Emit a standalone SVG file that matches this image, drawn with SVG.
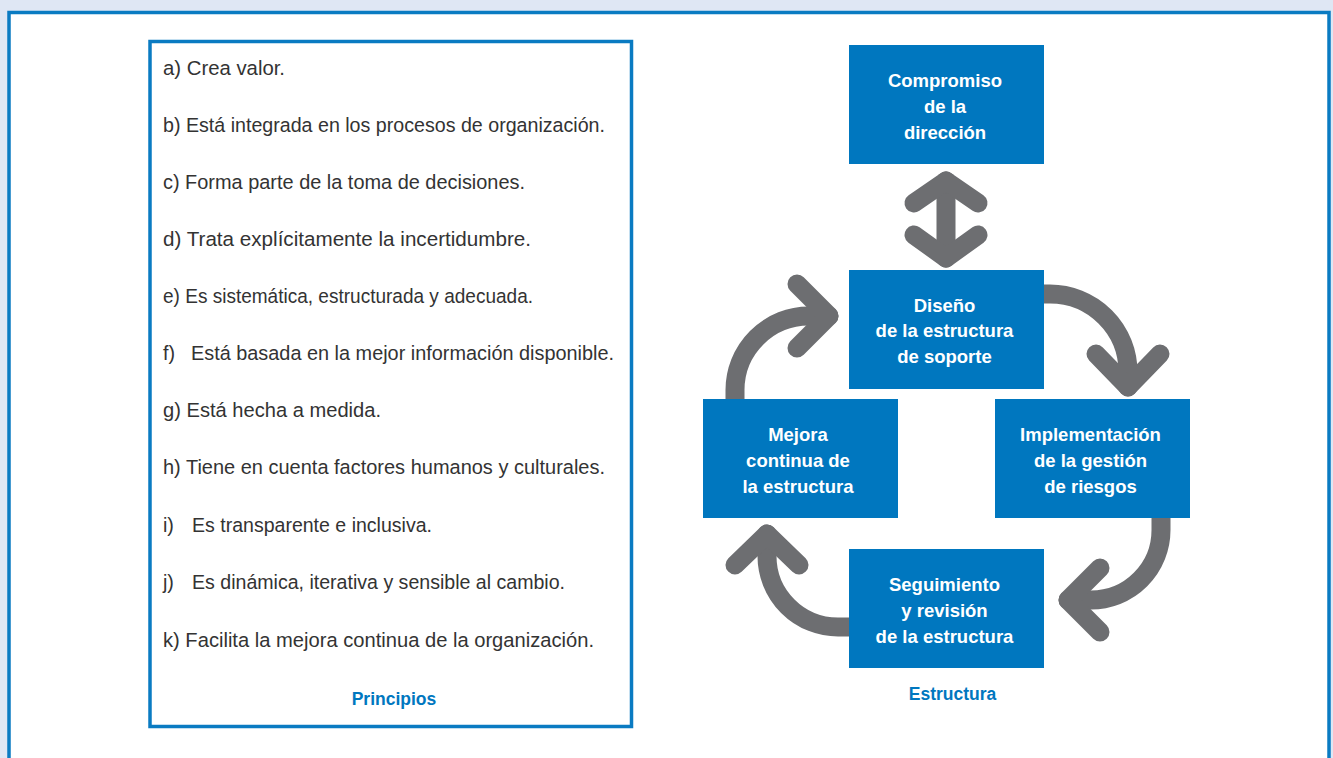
<svg xmlns="http://www.w3.org/2000/svg" width="1333" height="758" viewBox="0 0 1333 758">
  <defs>
    <style>
      .frame { fill: #ffffff; stroke: #0a7bc2; stroke-width: 3.5; }
      .box { fill: #0077bf; }
      .btxt { font-family: "Liberation Sans", Arial, sans-serif; font-weight: bold; font-size: 18.5px; fill: #ffffff; text-anchor: middle; }
      .item { font-family: "Liberation Sans", Arial, sans-serif; font-size: 19.7px; fill: #333333; }
      .cap { font-family: "Liberation Sans", Arial, sans-serif; font-weight: bold; font-size: 17.5px; fill: #0077bf; text-anchor: middle; }
      .conn { fill: none; stroke: #6d6e71; stroke-width: 19; stroke-linecap: round; stroke-linejoin: round; }
    </style>
  </defs>

  <rect x="0" y="0" width="1333" height="758" fill="#dfe7f4"/>
  <rect id="panel" class="frame" x="9" y="12.5" width="1320" height="760"/>

  <g id="principios">
    <rect class="frame" x="150" y="41.5" width="481.5" height="685" stroke-width="3"/>
    <text class="item" x="163" y="75" textLength="122" lengthAdjust="spacingAndGlyphs">a) Crea valor.</text>
    <text class="item" x="163" y="132" textLength="442" lengthAdjust="spacingAndGlyphs">b) Está integrada en los procesos de organización.</text>
    <text class="item" x="163" y="189" textLength="362" lengthAdjust="spacingAndGlyphs">c) Forma parte de la toma de decisiones.</text>
    <text class="item" x="163" y="246" textLength="368" lengthAdjust="spacingAndGlyphs">d) Trata explícitamente la incertidumbre.</text>
    <text class="item" x="163" y="303" textLength="370" lengthAdjust="spacingAndGlyphs">e) Es sistemática, estructurada y adecuada.</text>
    <text class="item" x="163" y="360">f)<tspan x="191" textLength="423" lengthAdjust="spacingAndGlyphs">Está basada en la mejor información disponible.</tspan></text>
    <text class="item" x="163" y="417" textLength="218" lengthAdjust="spacingAndGlyphs">g) Está hecha a medida.</text>
    <text class="item" x="163" y="474" textLength="442" lengthAdjust="spacingAndGlyphs">h) Tiene en cuenta factores humanos y culturales.</text>
    <text class="item" x="163" y="532">i)<tspan x="192" textLength="240" lengthAdjust="spacingAndGlyphs">Es transparente e inclusiva.</tspan></text>
    <text class="item" x="163" y="589">j)<tspan x="192" textLength="373" lengthAdjust="spacingAndGlyphs">Es dinámica, iterativa y sensible al cambio.</tspan></text>
    <text class="item" x="163" y="647" textLength="431" lengthAdjust="spacingAndGlyphs">k) Facilita la mejora continua de la organización.</text>
    <text class="cap" x="394" y="705">Principios</text>
  </g>

  <g id="connectors">
    <path class="conn" d="M946,181 L946,258"/>
    <polyline class="conn" points="914,203 946,181 978,203"/>
    <polyline class="conn" points="914,235 946,258 978,235"/>

    <path class="conn" d="M1044,294 L1050,294 A78,78 0 0 1 1128,372 L1128,387"/>
    <polyline class="conn" points="1096,354 1128,387 1160,354"/>

    <path class="conn" d="M1161,518 L1161,530 A70,70 0 0 1 1091,600 L1068,600"/>
    <polyline class="conn" points="1100,568 1068,600 1100,632"/>

    <path class="conn" d="M849,627 L838,627 A71,71 0 0 1 767,556 L767,534"/>
    <polyline class="conn" points="735,565 767,534 799,565"/>

    <path class="conn" d="M735,399 L735,390 A74,74 0 0 1 809,316 L829,316"/>
    <polyline class="conn" points="797,284 829,316 797,348"/>
  </g>

  <g id="compromiso">
    <rect class="box" x="849" y="45" width="195" height="119"/>
    <text class="btxt" x="945" y="87">Compromiso</text>
    <text class="btxt" x="945" y="113">de la</text>
    <text class="btxt" x="945" y="139">dirección</text>
  </g>

  <g id="diseno">
    <rect class="box" x="849" y="270" width="195" height="119"/>
    <text class="btxt" x="944.5" y="311.5">Diseño</text>
    <text class="btxt" x="944.5" y="337">de la estructura</text>
    <text class="btxt" x="944.5" y="363">de soporte</text>
  </g>

  <g id="implementacion">
    <rect class="box" x="995" y="399" width="195" height="119"/>
    <text class="btxt" x="1090.5" y="440.5">Implementación</text>
    <text class="btxt" x="1090.5" y="466.5">de la gestión</text>
    <text class="btxt" x="1090.5" y="492.5">de riesgos</text>
  </g>

  <g id="mejora">
    <rect class="box" x="703" y="399" width="195" height="119"/>
    <text class="btxt" x="798" y="440.5">Mejora</text>
    <text class="btxt" x="798" y="466.5">continua de</text>
    <text class="btxt" x="798" y="492.5">la estructura</text>
  </g>

  <g id="seguimiento">
    <rect class="box" x="849" y="549" width="195" height="119"/>
    <text class="btxt" x="944.5" y="590.5">Seguimiento</text>
    <text class="btxt" x="944.5" y="616.5">y revisión</text>
    <text class="btxt" x="944.5" y="642.5">de la estructura</text>
  </g>

  <text id="estructura" class="cap" x="952.5" y="700">Estructura</text>
</svg>
